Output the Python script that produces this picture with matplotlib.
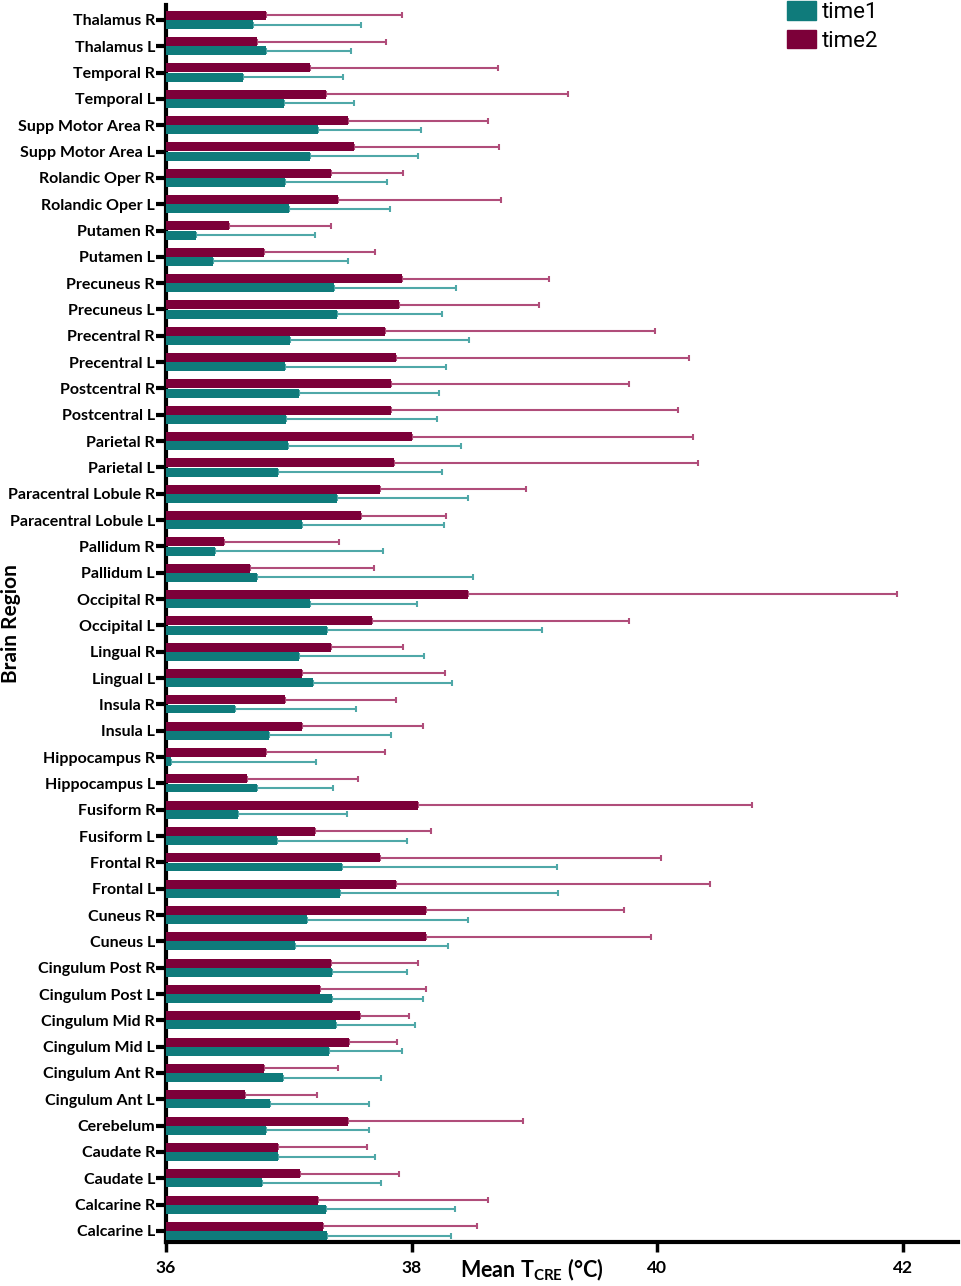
import matplotlib
matplotlib.use("Agg")
import matplotlib.pyplot as plt
import numpy as np
from matplotlib.patches import Patch

regions = ["Thalamus R", "Thalamus L", "Temporal R", "Temporal L", "Supp Motor Area R",
           "Supp Motor Area L", "Rolandic Oper R", "Rolandic Oper L", "Putamen R", "Putamen L",
           "Precuneus R", "Precuneus L", "Precentral R", "Precentral L", "Postcentral R",
           "Postcentral L", "Parietal R", "Parietal L", "Paracentral Lobule R", "Paracentral Lobule L",
           "Pallidum R", "Pallidum L", "Occipital R", "Occipital L", "Lingual R", "Lingual L",
           "Insula R", "Insula L", "Hippocampus R", "Hippocampus L", "Fusiform R", "Fusiform L",
           "Frontal R", "Frontal L", "Cuneus R", "Cuneus L", "Cingulum Post R", "Cingulum Post L",
           "Cingulum Mid R", "Cingulum Mid L", "Cingulum Ant R", "Cingulum Ant L", "Cerebelum",
           "Caudate R", "Caudate L", "Calcarine R", "Calcarine L"]

time2_mean = [36.81, 36.74, 37.17, 37.30, 37.48, 37.53, 37.34, 37.40, 36.51, 36.80,
              37.92, 37.90, 37.78, 37.87, 37.83, 37.83, 38.00, 37.86, 37.74, 37.59,
              36.47, 36.68, 38.46, 37.68, 37.34, 37.11, 36.97, 37.11, 36.81, 36.66,
              38.05, 37.21, 37.74, 37.87, 38.12, 38.12, 37.34, 37.25, 37.58, 37.49,
              36.80, 36.64, 37.48, 36.91, 37.09, 37.24, 37.28]
time2_upper = [37.92, 37.79, 38.70, 39.27, 38.62, 38.71, 37.93, 38.73, 37.34, 37.70,
               39.12, 39.04, 39.98, 40.26, 39.77, 40.17, 40.29, 40.33, 38.93, 38.28,
               37.41, 37.69, 41.95, 39.77, 37.93, 38.27, 37.87, 38.09, 37.78, 37.56,
               40.77, 38.16, 40.03, 40.43, 39.73, 39.95, 38.05, 38.12, 37.98, 37.88,
               37.40, 37.23, 38.91, 37.64, 37.90, 38.62, 38.53]
time1_mean = [36.71, 36.81, 36.63, 36.96, 37.24, 37.17, 36.97, 37.00, 36.24, 36.38,
              37.37, 37.39, 37.01, 36.97, 37.08, 36.98, 36.99, 36.91, 37.39, 37.11,
              36.40, 36.74, 37.17, 37.31, 37.08, 37.20, 36.56, 36.84, 36.04, 36.74,
              36.59, 36.90, 37.43, 37.42, 37.15, 37.05, 37.35, 37.35, 37.38, 37.33,
              36.95, 36.85, 36.81, 36.91, 36.78, 37.30, 37.31]
time1_upper = [37.59, 37.51, 37.44, 37.53, 38.08, 38.05, 37.80, 37.82, 37.21, 37.48,
               38.36, 38.25, 38.47, 38.28, 38.22, 38.21, 38.40, 38.25, 38.46, 38.26,
               37.77, 38.50, 38.04, 39.06, 38.10, 38.33, 37.55, 37.83, 37.22, 37.36,
               37.47, 37.96, 39.18, 39.19, 38.46, 38.30, 37.96, 38.09, 38.03, 37.92,
               37.75, 37.65, 37.65, 37.70, 37.75, 38.35, 38.32]

base = 36.0
c_t1 = "#0f7b7b"
c_t2 = "#7c0039"
c_t1_err = "#4fa8a8"
c_t2_err = "#b04d7a"

fig = plt.figure(figsize=(9.62, 12.86), dpi=100)
ax = fig.add_axes([0.1726, 0.0342, 0.8234, 0.962])

y = np.arange(len(regions))
h = 0.34
off = 0.175
t1 = np.array(time1_mean); t2 = np.array(time2_mean)
e1 = np.array(time1_upper) - t1
e2 = np.array(time2_upper) - t2

ax.barh(y - off, t2 - base, left=base, height=h, color=c_t2, zorder=3)
ax.barh(y + off, t1 - base, left=base, height=h, color=c_t1, zorder=3)
ax.errorbar(t2, y - off, xerr=[np.zeros_like(e2), e2], fmt="none", ecolor=c_t2_err,
            elinewidth=1.5, capsize=2.5, capthick=1.5, zorder=2)
ax.errorbar(t1, y + off, xerr=[np.zeros_like(e1), e1], fmt="none", ecolor=c_t1_err,
            elinewidth=1.5, capsize=2.5, capthick=1.5, zorder=2)

ax.set_xlim(36, 42.45)
ax.set_ylim(len(regions) - 1 + 0.42, -0.57)
ax.set_yticks(y)
ax.set_yticklabels(regions, fontsize=11.5, fontweight="bold", family="Lato")
ax.set_xticks([36, 38, 40, 42])
ax.set_xticklabels(["36", "38", "40", "42"], fontsize=12.5, fontweight="bold", family="Lato")
ax.tick_params(axis="y", length=7, width=3, pad=1)
ax.tick_params(axis="x", length=7, width=2.5, pad=6)

for s in ["top", "right"]:
    ax.spines[s].set_visible(False)
ax.spines["left"].set_linewidth(3)
ax.spines["bottom"].set_linewidth(3)

ax.set_ylabel("Brain Region", fontsize=15, fontweight="bold", family="Lato")
ax.yaxis.set_label_coords(-0.183, 0.5)
ax.set_xlabel(r"Mean T$_{\mathregular{CRE}}$ (°C)", fontsize=15.5, fontweight="bold", family="Lato")
ax.xaxis.set_label_coords(0.461, -0.012)

handles = [Patch(color=c_t1, label="time1"), Patch(color=c_t2, label="time2")]
leg = ax.legend(handles=handles, loc="upper right", bbox_to_anchor=(0.925, 1.019), frameon=False,
                fontsize=16, handlelength=1.3, handleheight=0.9, handletextpad=0.3, labelspacing=0.3)
for t in leg.get_texts():
    t.set_family("Roboto")

fig.savefig("out.png", dpi=100)
